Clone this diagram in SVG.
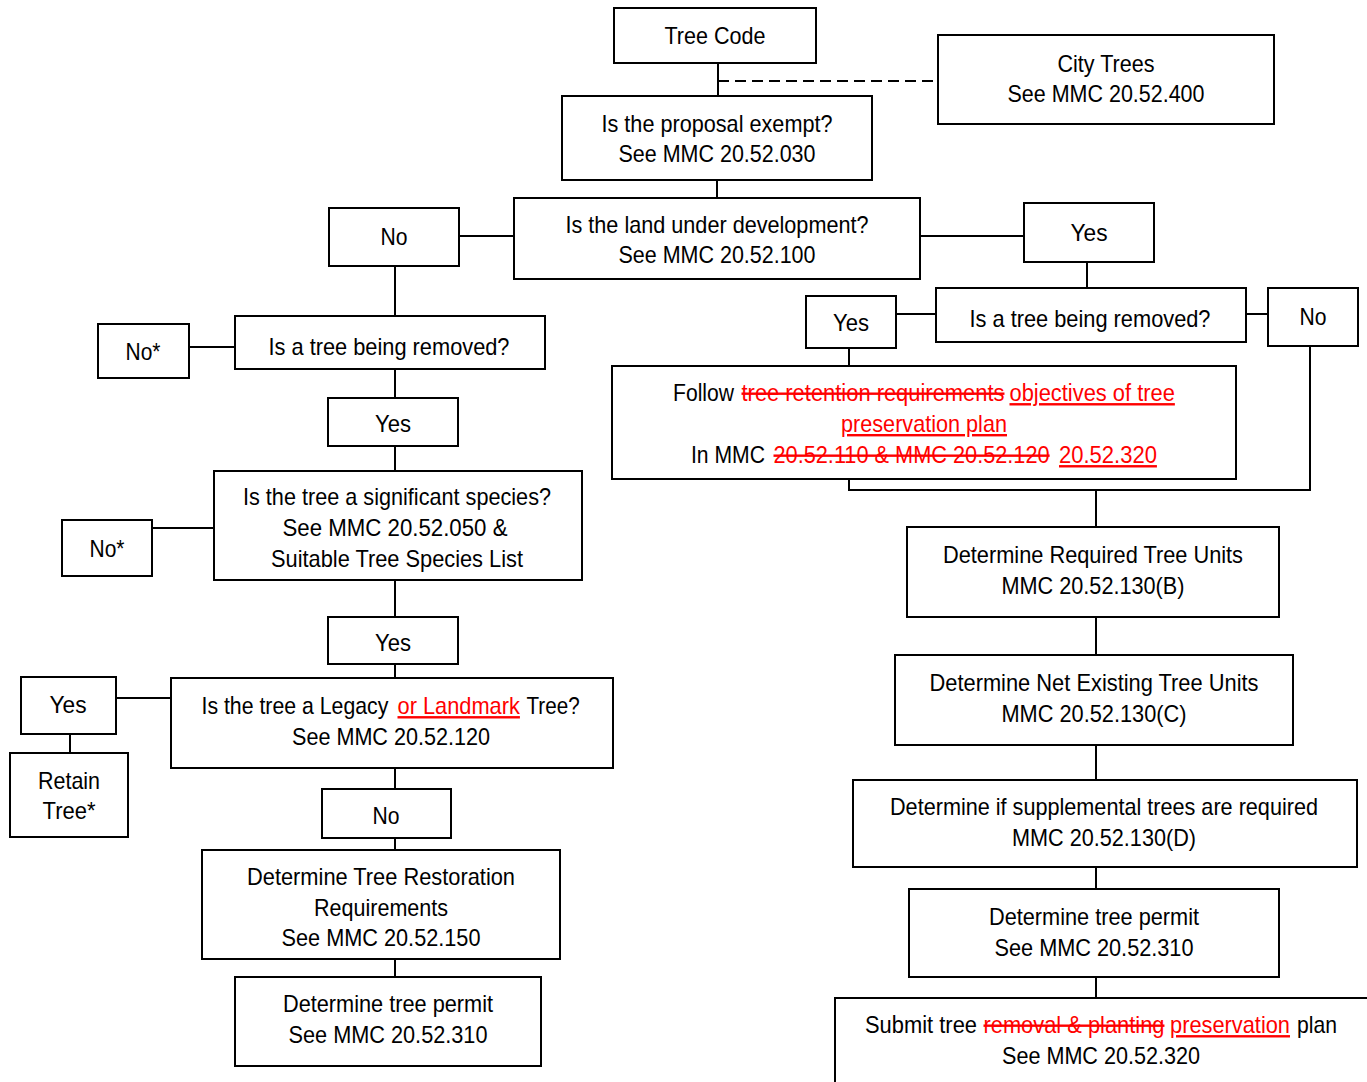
<svg xmlns="http://www.w3.org/2000/svg" width="1367" height="1082" viewBox="0 0 1367 1082">
<style>
.box{fill:#fff;stroke:#000;stroke-width:2}
.t{font-family:"Liberation Sans",Arial,sans-serif;font-size:24px;text-anchor:middle;fill:#000}
.s{text-anchor:start}
.del{fill:#f00;text-decoration:line-through}
.ins{fill:#f00;text-decoration:underline}
.c{fill:none;stroke:#000;stroke-width:2}
.d{fill:none;stroke:#000;stroke-width:2;stroke-dasharray:11 6}
</style>
<rect width="1367" height="1082" fill="#fff"/>
<g id="connectors">
<path class="c" d="M718 63V96M717 180V198M459 236H514M920 236H1024M1087 262V288M896 314H936M1246 314H1268M849 348V366M849 479V490H1310V346M1096 490V527M1096 617V655M1096 745V780M1096 867V889M1096 977V998"/>
<path class="d" d="M718 81H938"/>
<path class="c" d="M395 266V316M395 369V398M395 446V471M395 580V617M395 664V678M395 768V789M395 838V850M395 959V977M189 347H235M152 528H214M116 698H171M70 734V753"/>
</g>
<g id="tree-code"><rect class="box" x="614" y="8" width="202" height="55"/><text class="t" x="715" y="44" textLength="101" lengthAdjust="spacingAndGlyphs">Tree Code</text></g>
<g id="city-trees"><rect class="box" x="938" y="35" width="336" height="89"/><text class="t" x="1106" y="72" textLength="97" lengthAdjust="spacingAndGlyphs">City Trees</text><text class="t" x="1106" y="102" textLength="197" lengthAdjust="spacingAndGlyphs">See MMC 20.52.400</text></g>
<g id="exempt"><rect class="box" x="562" y="96" width="310" height="84"/><text class="t" x="717" y="132" textLength="231" lengthAdjust="spacingAndGlyphs">Is the proposal exempt?</text><text class="t" x="717" y="162" textLength="197" lengthAdjust="spacingAndGlyphs">See MMC 20.52.030</text></g>
<g id="land"><rect class="box" x="514" y="198" width="406" height="81"/><text class="t" x="717" y="233" textLength="303" lengthAdjust="spacingAndGlyphs">Is the land under development?</text><text class="t" x="717" y="263" textLength="197" lengthAdjust="spacingAndGlyphs">See MMC 20.52.100</text></g>
<g id="no-land"><rect class="box" x="329" y="208" width="130" height="58"/><text class="t" x="394" y="245" textLength="27" lengthAdjust="spacingAndGlyphs">No</text></g>
<g id="yes-land"><rect class="box" x="1024" y="203" width="130" height="59"/><text class="t" x="1089" y="241" textLength="37" lengthAdjust="spacingAndGlyphs">Yes</text></g>
<g id="removed-right"><rect class="box" x="936" y="288" width="310" height="54"/><text class="t" x="1090" y="327" textLength="241" lengthAdjust="spacingAndGlyphs">Is a tree being removed?</text></g>
<g id="yes-removed-right"><rect class="box" x="806" y="296" width="90" height="52"/><text class="t" x="851" y="331" textLength="36" lengthAdjust="spacingAndGlyphs">Yes</text></g>
<g id="no-removed-right"><rect class="box" x="1268" y="288" width="90" height="58"/><text class="t" x="1313" y="325" textLength="27" lengthAdjust="spacingAndGlyphs">No</text></g>
<g id="follow"><rect class="box" x="612" y="366" width="624" height="113"/>
<text class="t s" transform="translate(673 401) scale(0.88 1)">Follow</text>
<text class="t s del" transform="translate(741.5 401) scale(0.913 1)">tree retention requirements</text>
<text class="t s ins" transform="translate(1009.5 401) scale(0.912 1)">objectives of tree</text>
<text class="t ins" x="924" y="432" textLength="166" lengthAdjust="spacingAndGlyphs">preservation plan</text>
<text class="t s" transform="translate(691 463) scale(0.881 1)">In MMC</text>
<text class="t s del" transform="translate(773.5 463) scale(0.906 1)">20.52.110 &amp; MMC 20.52.120</text>
<text class="t s ins" transform="translate(1059 463) scale(0.918 1)">20.52.320</text></g>
<g id="required"><rect class="box" x="907" y="527" width="372" height="90"/><text class="t" x="1093" y="563" textLength="300" lengthAdjust="spacingAndGlyphs">Determine Required Tree Units</text><text class="t" x="1093" y="594" textLength="183" lengthAdjust="spacingAndGlyphs">MMC 20.52.130(B)</text></g>
<g id="net-existing"><rect class="box" x="895" y="655" width="398" height="90"/><text class="t" x="1094" y="691" textLength="329" lengthAdjust="spacingAndGlyphs">Determine Net Existing Tree Units</text><text class="t" x="1094" y="722" textLength="185" lengthAdjust="spacingAndGlyphs">MMC 20.52.130(C)</text></g>
<g id="supplemental"><rect class="box" x="853" y="780" width="504" height="87"/><text class="t" x="1104" y="815" textLength="428" lengthAdjust="spacingAndGlyphs">Determine if supplemental trees are required</text><text class="t" x="1104" y="846" textLength="184" lengthAdjust="spacingAndGlyphs">MMC 20.52.130(D)</text></g>
<g id="permit-right"><rect class="box" x="909" y="889" width="370" height="88"/><text class="t" x="1094" y="925" textLength="210" lengthAdjust="spacingAndGlyphs">Determine tree permit</text><text class="t" x="1094" y="956" textLength="199" lengthAdjust="spacingAndGlyphs">See MMC 20.52.310</text></g>
<g id="submit"><rect class="box" x="835" y="998" width="560" height="110"/>
<text class="t s" transform="translate(865 1033) scale(0.913 1)">Submit tree</text>
<text class="t s del" transform="translate(983.5 1033) scale(0.911 1)">removal &amp; planting</text>
<text class="t s ins" transform="translate(1170 1033) scale(0.909 1)">preservation</text>
<text class="t s" transform="translate(1297 1033) scale(0.881 1)">plan</text>
<text class="t" x="1101" y="1064" textLength="198" lengthAdjust="spacingAndGlyphs">See MMC 20.52.320</text></g>
<g id="removed-left"><rect class="box" x="235" y="316" width="310" height="53"/><text class="t" x="389" y="355" textLength="241" lengthAdjust="spacingAndGlyphs">Is a tree being removed?</text></g>
<g id="no-removed-left"><rect class="box" x="98" y="324" width="91" height="54"/><text class="t" x="143" y="360" textLength="35" lengthAdjust="spacingAndGlyphs">No*</text></g>
<g id="yes-removed-left"><rect class="box" x="328" y="398" width="130" height="48"/><text class="t" x="393" y="432" textLength="36" lengthAdjust="spacingAndGlyphs">Yes</text></g>
<g id="significant"><rect class="box" x="214" y="471" width="368" height="109"/><text class="t" x="397" y="505" textLength="308" lengthAdjust="spacingAndGlyphs">Is the tree a significant species?</text><text class="t" x="395" y="536" textLength="225" lengthAdjust="spacingAndGlyphs">See MMC 20.52.050 &amp;</text><text class="t" x="397" y="567" textLength="252" lengthAdjust="spacingAndGlyphs">Suitable Tree Species List</text></g>
<g id="no-significant"><rect class="box" x="62" y="520" width="90" height="56"/><text class="t" x="107" y="557" textLength="35" lengthAdjust="spacingAndGlyphs">No*</text></g>
<g id="yes-significant"><rect class="box" x="328" y="617" width="130" height="47"/><text class="t" x="393" y="651" textLength="36" lengthAdjust="spacingAndGlyphs">Yes</text></g>
<g id="legacy"><rect class="box" x="171" y="678" width="442" height="90"/>
<text class="t s" transform="translate(201.5 714) scale(0.887 1)">Is the tree a Legacy</text>
<text class="t s ins" transform="translate(397.5 714) scale(0.909 1)">or Landmark</text>
<text class="t s" transform="translate(526.5 714) scale(0.861 1)">Tree?</text>
<text class="t" x="391" y="745" textLength="198" lengthAdjust="spacingAndGlyphs">See MMC 20.52.120</text></g>
<g id="yes-legacy"><rect class="box" x="21" y="677" width="95" height="57"/><text class="t" x="68" y="713" textLength="37" lengthAdjust="spacingAndGlyphs">Yes</text></g>
<g id="retain"><rect class="box" x="10" y="753" width="118" height="84"/><text class="t" x="69" y="789" textLength="62" lengthAdjust="spacingAndGlyphs">Retain</text><text class="t" x="69" y="819" textLength="53" lengthAdjust="spacingAndGlyphs">Tree*</text></g>
<g id="no-legacy"><rect class="box" x="322" y="789" width="129" height="49"/><text class="t" x="386" y="824" textLength="27" lengthAdjust="spacingAndGlyphs">No</text></g>
<g id="restoration"><rect class="box" x="202" y="850" width="358" height="109"/><text class="t" x="381" y="885" textLength="268" lengthAdjust="spacingAndGlyphs">Determine Tree Restoration</text><text class="t" x="381" y="916" textLength="134" lengthAdjust="spacingAndGlyphs">Requirements</text><text class="t" x="381" y="946" textLength="199" lengthAdjust="spacingAndGlyphs">See MMC 20.52.150</text></g>
<g id="permit-left"><rect class="box" x="235" y="977" width="306" height="89"/><text class="t" x="388" y="1012" textLength="210" lengthAdjust="spacingAndGlyphs">Determine tree permit</text><text class="t" x="388" y="1043" textLength="199" lengthAdjust="spacingAndGlyphs">See MMC 20.52.310</text></g>
</svg>
